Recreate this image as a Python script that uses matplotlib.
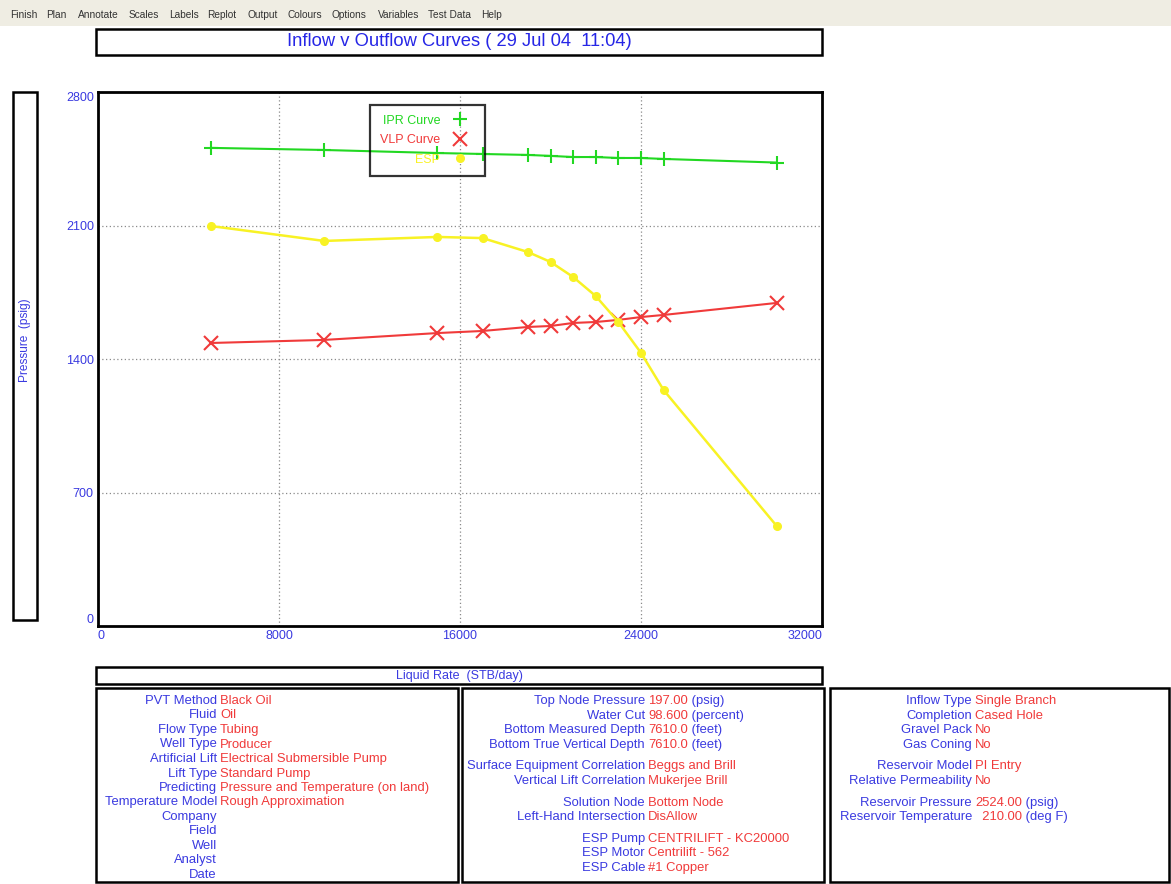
import matplotlib.pyplot as plt
from matplotlib.patches import Rectangle
from matplotlib.lines import Line2D

plt.rcParams['font.family'] = ['Liberation Sans', 'DejaVu Sans']

W, H = 1171, 884

# liquid rate (STB/day) and pressures (psig)
rate = [5000, 10000, 15000, 17000, 19000, 20000, 21000, 22000, 23000, 24000, 25000, 30000]
ipr = [2507, 2496, 2480, 2475, 2470, 2465, 2459, 2459, 2454, 2454, 2449, 2430]
vlp = [1484, 1500, 1536, 1547, 1568, 1573, 1589, 1594, 1605, 1620, 1631, 1694]
esp = [2097, 2019, 2040, 2034, 1961, 1909, 1830, 1730, 1594, 1432, 1237, 524]

xticks = [0, 8000, 16000, 24000, 32000]
yticks = [0, 700, 1400, 2100, 2800]

menu = ['Finish', 'Plan', 'Annotate', 'Scales', 'Labels', 'Replot', 'Output',
        'Colours', 'Options', 'Variables', 'Test Data', 'Help']
menu_x = [10, 46, 78, 129, 169, 207, 247, 288, 332, 378, 428, 481]

panel1 = [('PVT Method', 'Black Oil', ''), ('Fluid', 'Oil', ''),
          ('Flow Type', 'Tubing', ''), ('Well Type', 'Producer', ''),
          ('Artificial Lift', 'Electrical Submersible Pump', ''),
          ('Lift Type', 'Standard Pump', ''),
          ('Predicting', 'Pressure and Temperature (on land)', ''),
          ('Temperature Model', 'Rough Approximation', ''),
          ('Company', '', ''), ('Field', '', ''), ('Well', '', ''),
          ('Analyst', '', ''), ('Date', '', '')]
panel2 = [('Top Node Pressure', '197.00', ' (psig)'),
          ('Water Cut', '98.600', ' (percent)'),
          ('Bottom Measured Depth', '7610.0', ' (feet)'),
          ('Bottom True Vertical Depth', '7610.0', ' (feet)'),
          None,
          ('Surface Equipment Correlation', 'Beggs and Brill', ''),
          ('Vertical Lift Correlation', 'Mukerjee Brill', ''),
          None,
          ('Solution Node', 'Bottom Node', ''),
          ('Left-Hand Intersection', 'DisAllow', ''),
          None,
          ('ESP Pump', 'CENTRILIFT - KC20000', ''),
          ('ESP Motor', 'Centrilift - 562', ''),
          ('ESP Cable', '#1 Copper', '')]
panel3 = [('Inflow Type', 'Single Branch', ''),
          ('Completion', 'Cased Hole', ''),
          ('Gravel Pack', 'No', ''),
          ('Gas Coning', 'No', ''),
          None,
          ('Reservoir Model', 'PI Entry', ''),
          ('Relative Permeability', 'No', ''),
          None,
          ('Reservoir Pressure', '2524.00', ' (psig)'),
          ('Reservoir Temperature', '  210.00', ' (deg F)')]

blue = '#3a3ae0'
red = '#f03a3a'
green = '#22d822'
yellow = '#f8f224'

fig = plt.figure(figsize=(W / 100, H / 100), dpi=100)
fig.patch.set_facecolor('white')

# background layer in pixel coordinates
bg = fig.add_axes([0, 0, 1, 1])
bg.set_xlim(0, W)
bg.set_ylim(H, 0)
bg.axis('off')

bg.add_patch(Rectangle((0, 0), W, 26, color='#efede3', lw=0))
for name, mx in zip(menu, menu_x):
    bg.text(mx, 15, name, fontsize=7.3, color='#333333', va='center')


def box(x0, y0, x1, y1):
    bg.add_patch(Rectangle((x0, y0), x1 - x0, y1 - y0, fill=False,
                           ec='black', lw=1.8))


box(96, 29, 822, 55)
bg.text(459, 42, 'Inflow v Outflow Curves ( 29 Jul 04  11:04)', fontsize=13.2,
        color='#2626e6', ha='center', va='center')

box(13, 92, 37, 620)
bg.text(25, 340, 'Pressure  (psig)', fontsize=8.6, color=blue, rotation=90,
        ha='center', va='center')

box(96, 667, 822, 684)
bg.text(459, 676, 'Liquid Rate  (STB/day)', fontsize=9, color=blue,
        ha='center', va='center')

box(96, 688, 458, 882)
box(462, 688, 824, 882)
box(830, 688, 1169, 882)


def fill_panel(rows, xr, y0, step, gap):
    y = y0
    for row in rows:
        if row is None:
            y += gap
            continue
        lab, val, unit = row
        bg.text(xr, y, lab, fontsize=9.4, color=blue, ha='right', va='center')
        t = bg.text(xr + 3, y, val, fontsize=9.4, color=red, ha='left', va='center')
        if unit:
            bg.annotate(unit, xy=(1, 0), xycoords=t, fontsize=9.4, color=blue,
                        ha='left', va='bottom')
        y += step


fill_panel(panel1, 217, 701, 14.5, 0)
fill_panel(panel2, 645, 701, 14.6, 7)
fill_panel(panel3, 972, 701, 14.6, 7)

# main chart
ax = fig.add_axes([98 / W, 1 - 626 / H, 724 / W, 534 / H])
ax.set_facecolor('white')
ax.plot(rate, ipr, color=green, lw=1.5, marker='+', ms=10, mew=1.5)
ax.plot(rate, vlp, color=red, lw=1.5, marker='x', ms=10, mew=1.5)
ax.plot(rate, esp, color=yellow, lw=1.8, marker='o', ms=5.5)

ax.set_xlim(0, 32000)
ax.set_ylim(0, 2800)
ax.set_xticks(xticks)
ax.set_yticks(yticks)
ax.set_xticklabels([str(v) for v in xticks])
ax.set_yticklabels([str(v) for v in yticks])
ax.tick_params(length=0, labelsize=9, labelcolor=blue, pad=3)
ax.get_xticklabels()[-1].set_ha('right')
ax.get_xticklabels()[0].set_ha('left')
ax.get_yticklabels()[0].set_va('bottom')
ax.get_yticklabels()[-1].set_va('top')
ax.grid(True, color='#8a8a8a', lw=0.9, ls=(0, (1, 2)))
for sp in ax.spines.values():
    sp.set_linewidth(2)
    sp.set_color('black')

handles = [Line2D([], [], ls='none', marker='+', ms=10, mew=1.5, color=green),
           Line2D([], [], ls='none', marker='x', ms=10, mew=1.5, color=red),
           Line2D([], [], ls='none', marker='o', ms=5.5, color=yellow)]
leg = ax.legend(handles, ['IPR Curve', 'VLP Curve', 'ESP'], loc='upper left',
                bbox_to_anchor=(0.376, 0.976), borderaxespad=0, fontsize=9,
                markerfirst=False, handlelength=2.5, handletextpad=0.3,
                borderpad=0.8, labelspacing=0.6, fancybox=False,
                labelcolor=[green, red, yellow])
leg.get_frame().set_facecolor('none')
leg.get_frame().set_edgecolor('black')
leg.get_frame().set_linewidth(1.6)

fig.savefig('out.png', dpi=100)
